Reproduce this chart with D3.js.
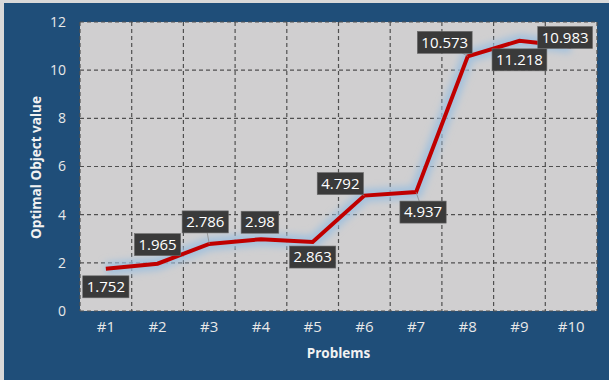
<!DOCTYPE html>
<meta charset="utf-8">
<style>
body { margin: 0; background: #d9d9d9; }
svg { display: block; }
.tick text { font: 14px "Open Sans", sans-serif; fill: #e8e8e8; }
.lbl text { font: 15px "Open Sans", sans-serif; fill: #fff; }
.title { font: bold 13.5px "Open Sans", sans-serif; fill: #f2f2f2; }
</style>
<svg class="chart"></svg>
<script src="https://d3js.org/d3.v7.min.js"></script>
<script>

var problems = ["#1", "#2", "#3", "#4", "#5", "#6", "#7", "#8", "#9", "#10"];
var values = [1.752, 1.965, 2.786, 2.98, 2.863, 4.792, 4.937, 10.573, 11.218, 10.983];
var yTicks = [0, 2, 4, 6, 8, 10, 12];

// where each value box sits relative to its point (px)
var labelOffsets = [[0, 18], [0, -19], [-4, -22], [-1, -17], [0, 15], [-24, -12], [7, 20], [-23, -14], [0, 19], [-6, -9]];

var W = 609, H = 380;
var margin = {top: 22, right: 12, bottom: 69, left: 80};
var width = 597 - margin.left, height = 311 - margin.top;

var svg = d3.select(".chart").attr("width", W).attr("height", H);

svg.append("rect").attr("x", 4).attr("y", 3).attr("width", W - 4).attr("height", H - 3).attr("fill", "#1f4e79");

var defs = svg.append("defs");
defs.append("filter").attr("id", "glow").attr("x", "-20%").attr("y", "-20%").attr("width", "140%").attr("height", "140%")
  .append("feGaussianBlur").attr("stdDeviation", 3.5);

var x = d3.scaleBand().domain(problems).range([0, width]);
var y = d3.scaleLinear().domain([0, 12]).range([height, 0]);

var g = svg.append("g").attr("transform", "translate(" + margin.left + "," + margin.top + ")");

g.append("rect").attr("width", width).attr("height", height).attr("fill", "#d0cfd0");

// grid
g.selectAll(".hg").data(yTicks).enter().append("line")
  .attr("x1", 0).attr("x2", width).attr("y1", y).attr("y2", y)
  .attr("stroke", "#505050").attr("stroke-width", 1.2).attr("stroke-dasharray", "4,3");
g.selectAll(".vg").data(problems).enter().append("line")
  .attr("x1", function(d) { return x(d); }).attr("x2", function(d) { return x(d); })
  .attr("y1", 0).attr("y2", height)
  .attr("stroke", "#505050").attr("stroke-width", 1.2).attr("stroke-dasharray", "4,3");
g.append("line").attr("x1", width).attr("x2", width).attr("y1", 0).attr("y2", height)
  .attr("stroke", "#505050").attr("stroke-width", 1.2).attr("stroke-dasharray", "4,3");

// axes
var yAxis = g.append("g").call(d3.axisLeft(y).tickValues(yTicks).tickSize(0).tickPadding(14));
yAxis.select(".domain").remove();
var xAxis = g.append("g").attr("transform", "translate(0," + height + ")")
  .call(d3.axisBottom(x).tickSize(0).tickPadding(10));
xAxis.select(".domain").remove();
xAxis.selectAll("text").style("font-size", "15px");

var pts = values.map(function(v, i) { return [x(problems[i]) + x.bandwidth() / 2, y(v)]; });
var line = d3.line();

g.append("path").attr("d", line(pts)).attr("fill", "none")
  .attr("stroke", "#9fc0de").attr("stroke-width", 13).attr("stroke-opacity", 0.9)
  .attr("stroke-linejoin", "round").attr("filter", "url(#glow)");
g.append("path").attr("d", line(pts)).attr("fill", "none")
  .attr("stroke", "#c00000").attr("stroke-width", 4).attr("stroke-linejoin", "miter");

// value labels
var lbl = g.selectAll(".lbl").data(values).enter().append("g").attr("class", "lbl")
  .attr("transform", function(d, i) {
    return "translate(" + (pts[i][0] + labelOffsets[i][0]) + "," + (pts[i][1] + labelOffsets[i][1]) + ")";
  });
lbl.each(function(d, i) {
  var s = d3.select(this);
  var off = labelOffsets[i];
  if (Math.abs(off[0]) + Math.abs(off[1]) > 20) {
    // leader line
    g.insert("line", ".lbl").attr("x1", pts[i][0]).attr("y1", pts[i][1])
      .attr("x2", pts[i][0] + off[0]).attr("y2", pts[i][1] + off[1])
      .attr("stroke", "#8a8a8a").attr("stroke-width", 0.8);
  }
  var t = s.append("text").attr("text-anchor", "middle").attr("dy", "0.35em").text(d);
  var w = t.node().getComputedTextLength();
  s.insert("rect", "text").attr("x", -w / 2 - 4).attr("y", -11).attr("width", w + 8).attr("height", 22)
    .attr("fill", "#3a3a3a").attr("stroke", "#6a6a6a").attr("stroke-width", 0.6);
});

svg.append("text").attr("class", "title").attr("text-anchor", "middle")
  .attr("transform", "translate(36," + (margin.top + height / 2 + 1) + ") rotate(-90)")
  .attr("dy", "0.35em").text("Optimal Object value");
svg.append("text").attr("class", "title").attr("text-anchor", "middle")
  .attr("x", margin.left + width / 2).attr("y", 353).attr("dy", "0.35em").text("Problems");

</script>
